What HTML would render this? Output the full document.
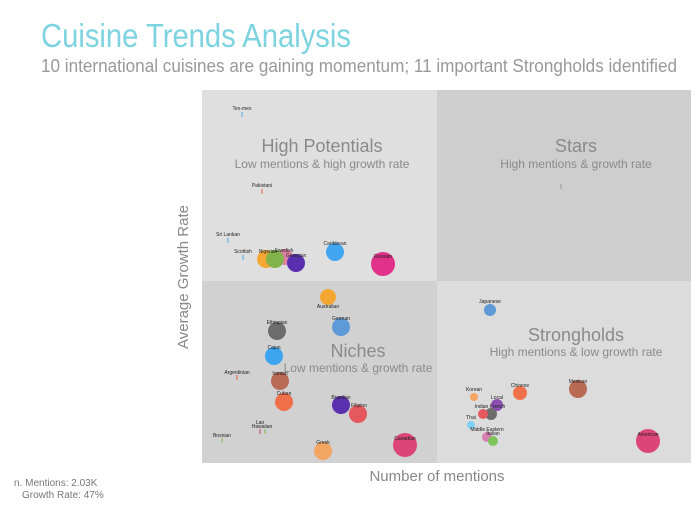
<!DOCTYPE html>
<html><head><meta charset="utf-8"><style>
body{margin:0;background:#fff;width:699px;height:503px;overflow:hidden;font-family:"Liberation Sans",sans-serif}
svg text{font-family:"Liberation Sans",sans-serif}
</style></head><body>
<svg width="699" height="503" xmlns="http://www.w3.org/2000/svg">
<text x="41" y="47" font-size="33" fill="#7dd3df" textLength="310" lengthAdjust="spacingAndGlyphs">Cuisine Trends Analysis</text>
<text x="41" y="72" font-size="18" fill="#999" textLength="636" lengthAdjust="spacingAndGlyphs">10 international cuisines are gaining momentum; 11 important Strongholds identified</text>
<rect x="202" y="90" width="235" height="191" fill="#dfdfdf"/>
<rect x="437" y="90" width="254" height="191" fill="#cecece"/>
<rect x="202" y="281" width="235" height="182" fill="#d1d1d1"/>
<rect x="437" y="281" width="254" height="182" fill="#dcdcdc"/>
<g fill="#8a8a8a" text-anchor="middle">
<text x="322" y="152" font-size="18">High Potentials</text>
<text x="322" y="168" font-size="12">Low mentions &amp; high growth rate</text>
<text x="576" y="152" font-size="18">Stars</text>
<text x="576" y="168" font-size="12">High mentions &amp; growth rate</text>
<text x="358" y="357" font-size="18">Niches</text>
<text x="358" y="372" font-size="12">Low mentions &amp; growth rate</text>
<text x="576" y="341" font-size="18">Strongholds</text>
<text x="576" y="356" font-size="12">High mentions &amp; low growth rate</text>
</g>
<text x="437" y="481" font-size="15" fill="#888" text-anchor="middle">Number of mentions</text>
<text transform="translate(188,277) rotate(-90)" font-size="15" fill="#888" text-anchor="middle">Average Growth Rate</text>
<g stroke-width="1">
<line x1="242" y1="112" x2="242" y2="117" stroke="#4aa8e8"/>
<line x1="262" y1="189" x2="262" y2="194" stroke="#e8603c"/>
<line x1="228" y1="238" x2="228" y2="243" stroke="#4aa8e8"/>
<line x1="243" y1="255" x2="243" y2="260" stroke="#4aa8e8"/>
<line x1="561" y1="184" x2="561" y2="189" stroke="#999"/>
<line x1="237" y1="375" x2="237" y2="380" stroke="#e8603c"/>
<line x1="260" y1="429" x2="260" y2="434" stroke="#c04060"/>
<line x1="265" y1="429" x2="265" y2="434" stroke="#7ab648"/>
<line x1="222" y1="438" x2="222" y2="443" stroke="#7ab648"/>
</g>
<g>
<circle cx="266" cy="259" r="9" fill="#f5a733"/>
<circle cx="285" cy="257" r="8" fill="#de7fa4"/>
<circle cx="275" cy="259" r="9" fill="#82b24a"/>
<circle cx="296" cy="263" r="9" fill="#5a2fb0"/>
<circle cx="335" cy="252" r="9" fill="#42a5f0"/>
<circle cx="383" cy="264" r="12" fill="#e0318b"/>
<circle cx="328" cy="297" r="8" fill="#f5a733"/>
<circle cx="277" cy="331" r="9" fill="#6c6c6c"/>
<circle cx="341" cy="327" r="9" fill="#5e9ad8"/>
<circle cx="274" cy="356" r="9" fill="#3ca5f0"/>
<circle cx="280" cy="381" r="9" fill="#b86a54"/>
<circle cx="284" cy="402" r="9" fill="#f0704a"/>
<circle cx="358" cy="414" r="9" fill="#e4585e"/>
<circle cx="341" cy="405" r="9" fill="#5a2fb0"/>
<circle cx="323" cy="451" r="9" fill="#f4a665"/>
<circle cx="405" cy="445" r="12" fill="#dc4578"/>
<circle cx="490" cy="310" r="6" fill="#5e9ad8"/>
<circle cx="474" cy="397" r="4" fill="#f4a665"/>
<circle cx="520" cy="393" r="7" fill="#f0704a"/>
<circle cx="578" cy="389" r="9" fill="#b86a54"/>
<circle cx="497" cy="405" r="6" fill="#8a4fb0"/>
<circle cx="491" cy="414" r="6" fill="#6c6c6c"/>
<circle cx="483" cy="414" r="5" fill="#e4585e"/>
<circle cx="471" cy="425" r="4" fill="#7ed0f5"/>
<circle cx="487" cy="437" r="5" fill="#d67fb0"/>
<circle cx="493" cy="441" r="5" fill="#7ec45a"/>
<circle cx="648" cy="441" r="12" fill="#dc4578"/>
</g>
<g font-size="5" fill="#222" text-anchor="middle">
<text x="242" y="110">Tex-mex</text>
<text x="262" y="187">Pakistani</text>
<text x="228" y="236">Sri Lankan</text>
<text x="243" y="253">Scottish</text>
<text x="268" y="253">Nigerian</text>
<text x="284" y="252">Swedish</text>
<text x="296" y="257">Georgian</text>
<text x="335" y="245">Caribbean</text>
<text x="383" y="258">Russian</text>
<text x="328" y="308">Australian</text>
<text x="277" y="324">Ethiopian</text>
<text x="341" y="320">German</text>
<text x="274" y="349">Cajun</text>
<text x="237" y="374">Argentinian</text>
<text x="280" y="375">Iranian</text>
<text x="284" y="395">Cuban</text>
<text x="341" y="399">Brazilian</text>
<text x="359" y="407">Filipino</text>
<text x="260" y="424">Lao</text>
<text x="262" y="428">Hawaiian</text>
<text x="222" y="437">Bosnian</text>
<text x="323" y="444">Greek</text>
<text x="405" y="440">Canadian</text>
<text x="490" y="303">Japanese</text>
<text x="474" y="391">Korean</text>
<text x="497" y="399">Local</text>
<text x="520" y="387">Chinese</text>
<text x="578" y="383">Mexican</text>
<text x="490" y="408">Indian French</text>
<text x="471" y="419">Thai</text>
<text x="487" y="431">Middle Eastern</text>
<text x="493" y="435">Italian</text>
<text x="648" y="436">American</text>
</g>
<text x="14" y="486" font-size="10" fill="#777">n. Mentions: 2.03K</text>
<text x="22" y="498" font-size="10" fill="#777">Growth Rate: 47%</text>
</svg>
</body></html>
